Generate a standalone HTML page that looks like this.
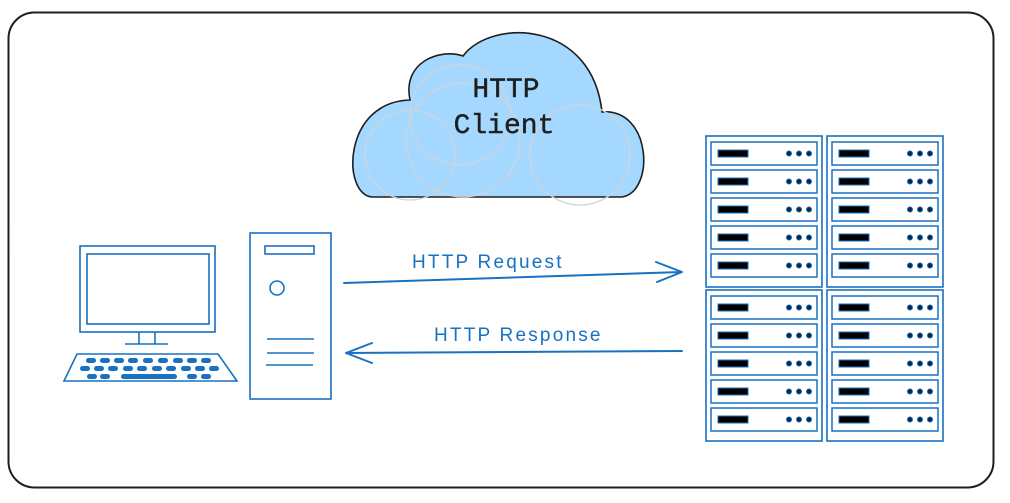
<!DOCTYPE html>
<html><head><meta charset="utf-8"><style>
html,body{margin:0;padding:0;background:#fff;width:1010px;height:503px;overflow:hidden}
svg{display:block}
.lbl{font-family:"Liberation Sans",sans-serif;font-size:19px;fill:#1971c2;letter-spacing:2.2px}
</style></head><body>
<svg id="s" width="1010" height="503" viewBox="0 0 1010 503" xmlns="http://www.w3.org/2000/svg">
<rect x="8.5" y="12.5" width="985" height="475" rx="26" fill="none" stroke="#1e1e1e" stroke-width="2"/>
<path d="M372,197 C342,195 342,102 410,100 C402,62 440,48 463,56 C492,18 592,20 602,112 C652,108 655,192 622,197 Z" fill="#a5d8ff" stroke="#1e1e1e" stroke-width="1.6"/>
<g fill="none" stroke="#cfd4d8" stroke-width="1.3">
<circle cx="463" cy="140" r="57"/>
<circle cx="460" cy="115" r="50"/>
<circle cx="580" cy="155" r="50"/>
<circle cx="410" cy="155" r="45"/>
</g>
<text x="506" y="97" text-anchor="middle" font-family="Liberation Mono,monospace" font-size="28" fill="#1e1e1e" stroke="#1e1e1e" stroke-width="0.4">HTTP</text>
<text x="504" y="133" text-anchor="middle" font-family="Liberation Mono,monospace" font-size="28" fill="#1e1e1e" stroke="#1e1e1e" stroke-width="0.4">Client</text>
<g fill="none" stroke="#1971c2" stroke-width="1.6">
<rect x="80" y="246" width="135" height="86"/>
<rect x="87" y="254" width="122" height="70"/>
<path d="M139,332 V344 M155,332 V344 M125,344 H168"/>
<path d="M77,354 H218 L237,381 H64 Z"/>
<rect x="250" y="233" width="81" height="166"/>
<rect x="265" y="246" width="49" height="8"/>
<circle cx="277" cy="288" r="7"/>
<path d="M267,339 H314 M267,353 H314 M266,365 H313"/>
</g>
<g fill="#1971c2" id="keys"></g>
<g fill="none" stroke="#1971c2" stroke-width="2" stroke-linecap="round" stroke-linejoin="round">
<path d="M344,283 L682,272 M656,262 L682,272 L657,282"/>
<path d="M682,351 L346,353 M372,343 L346,353 L372,363"/>
</g>
<text class="lbl" x="412" y="268">HTTP Request</text>
<text class="lbl" x="434" y="341">HTTP Response</text>
<g id="racks"></g>
</svg>
<script>
var ns="http://www.w3.org/2000/svg";
function el(t,a,p){var e=document.createElementNS(ns,t);for(var k in a)e.setAttribute(k,a[k]);p.appendChild(e);return e;}
var R=document.getElementById('racks');
[[706,136],[827,136],[706,290],[827,290]].forEach(function(r){
 el('rect',{x:r[0],y:r[1],width:116,height:151,fill:'none',stroke:'#1971c2','stroke-width':1.6},R);
 for(var i=0;i<5;i++){var y=r[1]+6+i*28;
  el('rect',{x:r[0]+5,y:y,width:106,height:23,fill:'none',stroke:'#1971c2','stroke-width':1.5},R);
  el('rect',{x:r[0]+12,y:y+8,width:30,height:7,fill:'#000',stroke:'#1971c2','stroke-width':1},R);
  [83,93,103].forEach(function(d){el('circle',{cx:r[0]+d,cy:y+11.5,r:2.6,fill:'#0b2a4a',stroke:'#1971c2','stroke-width':0.8},R);});
 }
});
var K=document.getElementById('keys');
function row(y,xs,w){xs.forEach(function(x){el('rect',{x:x,y:y,width:w||10,height:5,rx:2.5},K);});}
row(358,[86,100,114,128,143,158,173,187,201]);
row(366,[80,94,108,123,137,152,166,181,195,209]);
row(374,[87,100]);
el('rect',{x:121,y:374,width:56,height:5,rx:2.5},K);
row(374,[187,201]);
</script>
</body></html>
